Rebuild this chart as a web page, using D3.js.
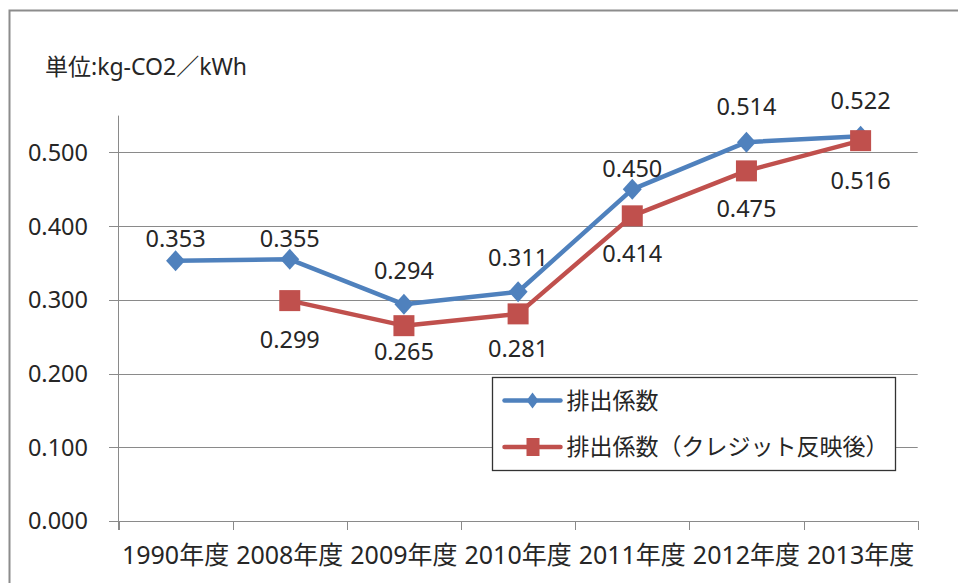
<!DOCTYPE html>
<html>
<head>
<meta charset="utf-8">
<script src="https://cdn.jsdelivr.net/npm/d3@7"></script>
<style>
  body { margin: 0; background: #fff; }
  svg text { font-family: "Noto Sans", "Noto Sans CJK JP", sans-serif; fill: #262626; }
</style>
</head>
<body>
<svg id="chart" width="958" height="583"></svg>
<script>
// data
var categories = ["1990年度", "2008年度", "2009年度", "2010年度", "2011年度", "2012年度", "2013年度"];
var emission = [0.353, 0.355, 0.294, 0.311, 0.450, 0.514, 0.522];
var emissionCredit = [null, 0.299, 0.265, 0.281, 0.414, 0.475, 0.516];
var yTicks = [0, 0.1, 0.2, 0.3, 0.4, 0.5];
var seriesNames = ["排出係数", "排出係数（クレジット反映後）"];
var unitLabel = "単位:kg-CO2／kWh";

// label offsets (label centre relative to the point, px) - moved by hand in the original
var blueLabelDy = [-22, -21, -34, -34, -21, -36, -36];
var redLabelDy = [0, 39, 26, 35, 38, 38, 40];

var blue = "#4f81bd", red = "#c0504d", gridCol = "#8a8a8a";

var svg = d3.select("#chart");

// outer frame (runs off the right and bottom edges)
svg.append("rect")
  .attr("x", 9.5).attr("y", 10.5)
  .attr("width", 1000).attr("height", 1000)
  .attr("fill", "#fff")
  .attr("stroke", "#8c8c8c").attr("stroke-width", 2);

var x = d3.scaleBand().domain(categories).range([118.5, 917.7]);
var y = d3.scaleLinear().domain([0, 0.55]).range([521, 115.6]);

function cx(i) { return x(categories[i]) + x.bandwidth() / 2; }

// unit
svg.append("text")
  .attr("x", 45).attr("y", 75)
  .style("font-size", "23px")
  .text(unitLabel);

// gridlines + y ticks
svg.selectAll(".grid").data(yTicks).enter().append("line")
  .attr("class", "grid")
  .attr("x1", 109).attr("x2", 917.7)
  .attr("y1", function(d) { return Math.round(y(d)) + 0.5; })
  .attr("y2", function(d) { return Math.round(y(d)) + 0.5; })
  .attr("stroke", gridCol).attr("stroke-width", 1);

svg.selectAll(".ylab").data(yTicks).enter().append("text")
  .attr("class", "ylab")
  .attr("x", 88)
  .attr("y", function(d) { return y(d); })
  .attr("dy", "0.36em")
  .attr("text-anchor", "end")
  .style("font-size", "23.5px")
  .text(d3.format(".3f"));

// y axis line
svg.append("line")
  .attr("x1", 118.5).attr("x2", 118.5)
  .attr("y1", y(0.55)).attr("y2", 530)
  .attr("stroke", gridCol);

// x ticks at band edges
var edges = categories.map(function(c) { return x(c); }).concat([x.range()[1]]);
svg.selectAll(".xtick").data(edges).enter().append("line")
  .attr("class", "xtick")
  .attr("x1", function(d) { return Math.round(d) + 0.5; })
  .attr("x2", function(d) { return Math.round(d) + 0.5; })
  .attr("y1", 521).attr("y2", 530)
  .attr("stroke", gridCol);

svg.selectAll(".xlab").data(categories).enter().append("text")
  .attr("class", "xlab")
  .attr("x", function(d) { return x(d) + x.bandwidth() / 2; })
  .attr("y", 564)
  .attr("text-anchor", "middle")
  .style("font-size", "25px")
  .text(function(d) { return d; });

// lines
var line = d3.line()
  .defined(function(d) { return d != null; })
  .x(function(d, i) { return cx(i); })
  .y(function(d) { return y(d); });

function diamond(hw, hh) { return "M0," + (-hh) + "L" + hw + ",0L0," + hh + "L" + (-hw) + ",0Z"; }

svg.append("path").datum(emission)
  .attr("d", line)
  .attr("fill", "none").attr("stroke", blue).attr("stroke-width", 4.5)
  .attr("stroke-linejoin", "round");

svg.selectAll(".pt1").data(emission).enter().append("path")
  .attr("class", "pt1")
  .attr("transform", function(d, i) { return "translate(" + cx(i) + "," + y(d) + ")"; })
  .attr("d", diamond(9.5, 10.5))
  .attr("fill", blue);

svg.append("path").datum(emissionCredit)
  .attr("d", line)
  .attr("fill", "none").attr("stroke", red).attr("stroke-width", 4.5)
  .attr("stroke-linejoin", "round");

var redPts = emissionCredit.map(function(d, i) { return {v: d, i: i}; }).filter(function(d) { return d.v != null; });

svg.selectAll(".pt2").data(redPts).enter().append("rect")
  .attr("class", "pt2")
  .attr("x", function(d) { return cx(d.i) - 10.5; })
  .attr("y", function(d) { return y(d.v) - 10.5; })
  .attr("width", 21).attr("height", 21)
  .attr("fill", red);

// data labels
var fmt = d3.format(".3f");
svg.selectAll(".lab1").data(emission).enter().append("text")
  .attr("class", "lab1")
  .attr("x", function(d, i) { return cx(i); })
  .attr("y", function(d, i) { return y(d) + blueLabelDy[i]; })
  .attr("dy", "0.36em")
  .attr("text-anchor", "middle")
  .style("font-size", "23.5px")
  .text(fmt);

svg.selectAll(".lab2").data(redPts).enter().append("text")
  .attr("class", "lab2")
  .attr("x", function(d) { return cx(d.i); })
  .attr("y", function(d) { return y(d.v) + redLabelDy[d.i]; })
  .attr("dy", "0.36em")
  .attr("text-anchor", "middle")
  .style("font-size", "23.5px")
  .text(function(d) { return fmt(d.v); });

// legend
var lg = svg.append("g").attr("transform", "translate(492.5,377.5)");
lg.append("rect")
  .attr("width", 403).attr("height", 93)
  .attr("fill", "#fff").attr("stroke", "#333").attr("stroke-width", 1.3);

var legendItems = [
  {name: seriesNames[0], color: blue, marker: "diamond", y: 23},
  {name: seriesNames[1], color: red, marker: "square", y: 69.5}
];
legendItems.forEach(function(it) {
  lg.append("line")
    .attr("x1", 12).attr("x2", 68)
    .attr("y1", it.y).attr("y2", it.y)
    .attr("stroke", it.color).attr("stroke-width", 4.5).attr("stroke-linecap", "round");
  if (it.marker === "diamond") {
    lg.append("path")
      .attr("transform", "translate(40," + it.y + ")")
      .attr("d", diamond(6, 8))
      .attr("fill", it.color);
  } else {
    lg.append("rect")
      .attr("x", 34).attr("y", it.y - 9)
      .attr("width", 13).attr("height", 18)
      .attr("fill", it.color);
  }
  lg.append("text")
    .attr("x", 74).attr("y", it.y)
    .attr("dy", "0.36em")
    .style("font-family", "'Noto Sans CJK JP', sans-serif")
    .style("font-size", "23px")
    .text(it.name);
});
</script>
</body>
</html>
